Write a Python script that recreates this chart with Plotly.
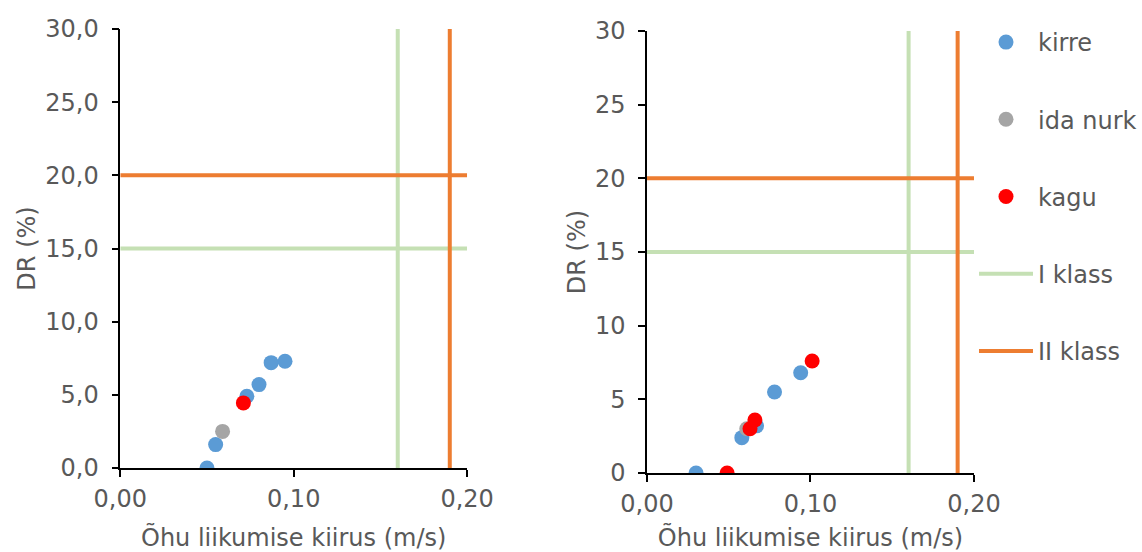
import plotly.graph_objects as go

# ---- data ----
left_kirre_x = [0.050, 0.055, 0.073, 0.080, 0.087, 0.095]
left_kirre_y = [0.0, 1.6, 4.9, 5.7, 7.2, 7.3]
left_ida_x = [0.059]
left_ida_y = [2.5]
left_kagu_x = [0.071]
left_kagu_y = [4.45]

right_kirre_x = [0.030, 0.058, 0.067, 0.078, 0.094]
right_kirre_y = [0.0, 2.4, 3.2, 5.5, 6.8]
right_ida_x = [0.061]
right_ida_y = [3.0]
right_kagu_x = [0.049, 0.063, 0.066, 0.101]
right_kagu_y = [0.0, 3.0, 3.6, 7.6]

class_names = ["I klass", "II klass"]
class_speed = [0.16, 0.19]   # m/s limits
class_dr = [15, 20]          # DR % limits
x_range = [0.0, 0.2]
y_range = [0, 30]

BLUE = "#5B9BD5"
GRAY = "#A5A5A5"
RED = "#FF0000"
LINE_COLORS = ["#C5E0B4", "#ED7D31"]
TXT = "#595959"
FONT = "DejaVu Sans"
FS = 24

fig = go.Figure()

def add_panel(xa, ya, kx, ky, ix, iy, gx, gy, show):
    for name, xs, ys, col in [("kirre", kx, ky, BLUE), ("ida nurk", ix, iy, GRAY), ("kagu", gx, gy, RED)]:
        fig.add_trace(go.Scatter(x=xs, y=ys, mode="markers", name=name, legendgroup=name,
                                 showlegend=show, xaxis=xa, yaxis=ya,
                                 marker=dict(color=col, size=15, line=dict(width=0))))
    for name, sp, dr, col in zip(class_names, class_speed, class_dr, LINE_COLORS):
        fig.add_trace(go.Scatter(x=[x_range[0], x_range[1], None, sp, sp],
                                 y=[dr, dr, None, y_range[0], y_range[1]],
                                 mode="lines", name=name, legendgroup=name, showlegend=show,
                                 xaxis=xa, yaxis=ya, connectgaps=False,
                                 line=dict(color=col, width=4)))

add_panel("x", "y", left_kirre_x, left_kirre_y, left_ida_x, left_ida_y, left_kagu_x, left_kagu_y, True)
add_panel("x2", "y2", right_kirre_x, right_kirre_y, right_ida_x, right_ida_y, right_kagu_x, right_kagu_y, False)

W, H = 1142, 552
axis_common = dict(showline=True, linecolor="black", linewidth=1.5, ticks="outside",
                   ticklen=7, tickcolor="black", tickwidth=1.5, showgrid=False, zeroline=False,
                   tickfont=dict(family=FONT, size=FS, color=TXT), automargin=False)
xt = dict(ticklabelstandoff=1)
yt = dict(ticklabelstandoff=8)
title_font = dict(family=FONT, size=FS, color=TXT)

fig.update_layout(
    width=W, height=H,
    margin=dict(l=0, r=0, t=0, b=0),
    paper_bgcolor="white", plot_bgcolor="white",
    separators=",.",
    font=dict(family=FONT, size=FS, color=TXT),
    xaxis=dict(domain=[121 / W, 470 / W], range=x_range, dtick=0.1, tickformat=".2f",
               anchor="y", title=dict(text="Õhu liikumise kiirus (m/s)", standoff=18, font=title_font),
               **axis_common, **xt),
    yaxis=dict(domain=[1 - 468 / H, 1 - 29 / H], range=y_range, dtick=5, tickformat=".1f",
               anchor="x", title=dict(text="DR (%)", standoff=3, font=title_font),
               **axis_common, **yt),
    xaxis2=dict(domain=[651 / W, 980 / W], range=x_range, dtick=0.1, tickformat=".2f",
                anchor="y2", title=dict(text="Õhu liikumise kiirus (m/s)", standoff=18, font=title_font),
                **axis_common, **xt),
    yaxis2=dict(domain=[1 - 473 / H, 1 - 31 / H], range=y_range, dtick=5, tickformat="d",
                anchor="x2", title=dict(text="DR (%)", standoff=3, font=title_font),
                **axis_common, **yt),
    legend=dict(x=980 / W, y=1 - 20 / H, xanchor="left", yanchor="top",
                font=dict(family=FONT, size=FS, color=TXT), tracegroupgap=43,
                itemwidth=54, bgcolor="rgba(0,0,0,0)"),
    showlegend=True,
)

fig.write_html("out.html")
